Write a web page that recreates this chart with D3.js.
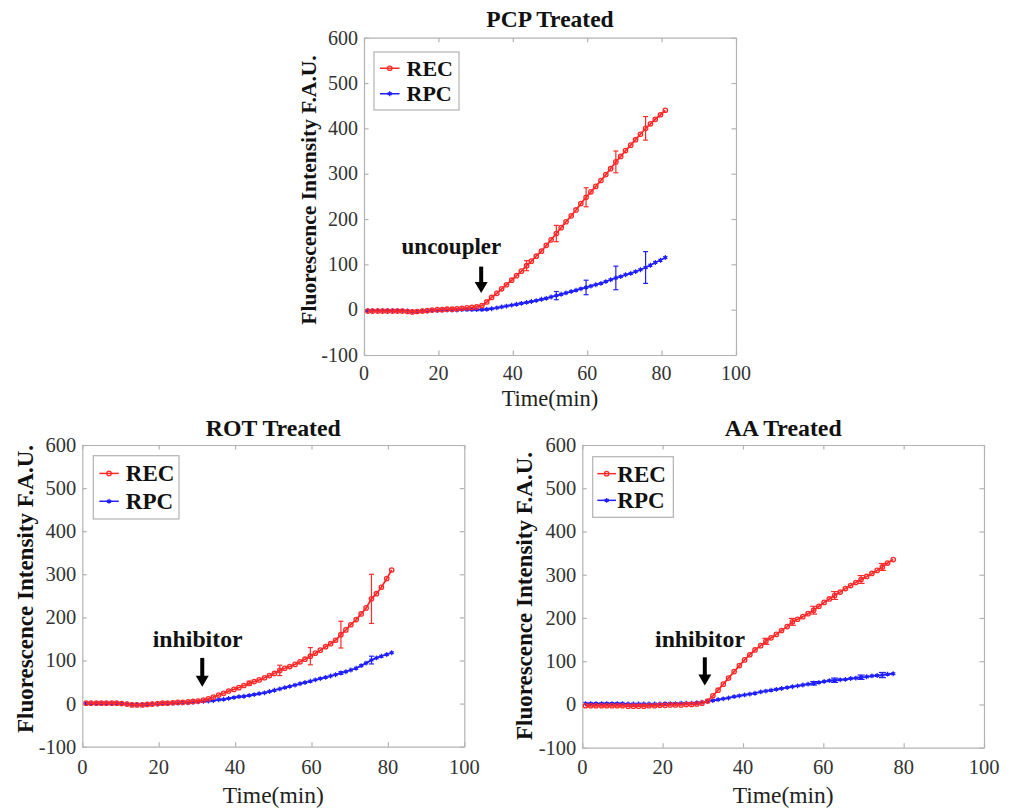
<!DOCTYPE html>
<html><head><meta charset="utf-8">
<script src="https://cdn.jsdelivr.net/npm/d3@7"></script>
<style>html,body{margin:0;padding:0;background:#fff;}svg{display:block;}</style>
</head><body>
<svg id="chart" width="1010" height="812"></svg>
<script>
// ---------------- DATA ----------------
const seriesNames = ["REC", "RPC"];
const panelTitles = ["PCP Treated", "ROT Treated", "AA Treated"];
const annotationTexts = ["uncoupler", "inhibitor", "inhibitor"];
const annotationX = [31.5, 31.4, 30.5];     // time (min) where the arrow points
const yTickValues = [-100, 0, 100, 200, 300, 400, 500, 600];
const xTickValues = [0, 20, 40, 60, 80, 100];

const timeMin = [1.0, 2.3, 3.7, 5.0, 6.3, 7.7, 9.0, 10.3, 11.7, 13.0, 14.3, 15.7, 17.0, 18.3, 19.7,
  21.0, 22.3, 23.7, 25.0, 26.3, 27.7, 29.0, 30.3, 31.7, 33.0, 34.3, 35.7, 37.0, 38.3, 39.7,
  41.0, 42.3, 43.7, 45.0, 46.3, 47.7, 49.0, 50.3, 51.7, 53.0, 54.3, 55.7, 57.0, 58.3, 59.7,
  61.0, 62.3, 63.7, 65.0, 66.3, 67.7, 69.0, 70.3, 71.7, 73.0, 74.3, 75.7, 77.0, 78.3, 79.7, 81.0];

const timeMinAA = [0.8, 2.1, 3.4, 4.8, 6.1, 7.4, 8.7, 10.0, 11.4, 12.7, 14.0, 15.3, 16.6, 18.0, 19.3,
  20.6, 21.9, 23.2, 24.6, 25.9, 27.2, 28.5, 29.8, 31.2, 32.5, 33.8, 35.1, 36.4, 37.8, 39.1,
  40.4, 41.7, 43.0, 44.4, 45.7, 47.0, 48.3, 49.6, 51.0, 52.3, 53.6, 54.9, 56.2, 57.6, 58.9,
  60.2, 61.5, 62.8, 64.2, 65.5, 66.8, 68.1, 69.4, 70.8, 72.1, 73.4, 74.7, 76.0, 77.4];

const pcpREC = [-3, -3, -3, -3, -3, -3, -3, -3, -4, -5, -4, -3, -2, -1, 0,
  0, 1, 1, 2, 3, 4, 5, 6, 9, 17, 27, 36, 46, 55, 65,
  75, 85, 97, 107, 118, 129, 142, 154, 168, 181, 194, 207, 220, 234, 248,
  260, 272, 285, 298, 311, 326, 338, 351, 363, 375, 387, 400, 410, 420, 430, 440];
const pcpRPC = [-2, -2, -2, -2, -2, -2, -2, -2, -3, -4, -4, -3, -3, -2, -2,
  -1, -1, -1, -1, 0, 0, 0, 0, 0, 1, 2, 4, 6, 8, 10,
  12, 14, 16, 18, 20, 23, 25, 28, 31, 34, 37, 40, 43, 46, 49,
  52, 55, 58, 62, 66, 70, 73, 77, 80, 84, 88, 93, 98, 104, 109, 115];

const rotREC = [1, 1, 1, 1, 1, 1, 1, 0, -1, -3, -3, -3, -2, -1, 0,
  1, 1, 2, 3, 3, 4, 5, 6, 8, 11, 15, 20, 24, 29, 33,
  37, 42, 47, 51, 55, 60, 65, 70, 77, 82, 86, 91, 97, 103, 110,
  117, 124, 132, 139, 147, 160, 171, 183, 195, 208, 222, 243, 255, 270, 290, 310];
const rotRPC = [0, 0, 0, 0, 0, 0, 0, 0, -1, -2, -2, -2, -2, -1, -1,
  0, 0, 1, 1, 2, 2, 3, 4, 5, 6, 7, 9, 10, 12, 14,
  16, 17, 19, 21, 23, 25, 28, 31, 34, 37, 40, 43, 46, 49, 52,
  55, 58, 61, 64, 67, 71, 74, 78, 82, 88, 94, 101, 106, 110, 114, 118];

const aaREC = [-3, -3, -3, -3, -3, -3, -3, -3, -4, -4, -4, -4, -3, -3, -2,
  -2, -1, -1, -1, 0, 0, 1, 3, 8, 20, 33, 47, 61, 76, 90,
  103, 115, 126, 136, 146, 154, 162, 171, 180, 191, 197, 203, 210, 218, 227,
  236, 244, 252, 260, 268, 275, 282, 289, 296, 303, 310, 318, 327, 335];
const aaRPC = [2, 2, 2, 2, 2, 2, 2, 2, 1, 1, 1, 1, 1, 1, 1,
  2, 2, 2, 3, 3, 3, 4, 5, 7, 9, 11, 13, 15, 18, 20,
  22, 24, 26, 29, 31, 33, 35, 37, 39, 41, 43, 45, 47, 49, 51,
  53, 55, 56, 57, 58, 60, 61, 63, 64, 66, 67, 68, 70, 71];

// error bars: index into the series, and half-height
const pcpRECErrIdx = [32, 38, 44, 50, 56], pcpRECErr = [11, 18, 21, 24, 26];
const pcpRPCErrIdx = [38, 44, 50, 56],     pcpRPCErr = [9, 16, 26, 35];
const rotRECErrIdx = [32, 38, 44, 50, 56], rotRECErr = [5, 12, 20, 31, 57];
const rotRPCErrIdx = [50, 56],             rotRPCErr = [3, 9];
const aaRECErrIdx = [34, 39, 43, 47, 52, 56], aaRECErr = [7, 8, 9, 9, 9, 8];
const aaRPCErrIdx = [43, 47, 52, 56],         aaRPCErr = [4, 5, 5, 6];

// ---------------- LAYOUT ----------------
const RED = "#ff2a2a", BLUE = "#2020ff", AXIS = "#b3b3b3", TICKTXT = "#333";
const FONT = "'Liberation Serif', 'Times New Roman', serif";

const panels = [
  { title: panelTitles[0], annot: annotationTexts[0], ax: annotationX[0],
    box: {l: 364, r: 736, t: 37.7, b: 355},
    t: timeMin, rec: pcpREC, rpc: pcpRPC,
    recE: [pcpRECErrIdx, pcpRECErr], rpcE: [pcpRPCErrIdx, pcpRPCErr],
    titleY: 27, ylabX: 316, ylabY: 190, xlabY: 406, tickLabY: 380,
    legend: {x: 374, y: 52, w: 85, h: 58},
    annotLab: [23.5, 123], arrowTop: 95, arrowTip: 37,
    fs: {tick: 20, xlab: 22.5, ylab: 21.5, title: 23.5, leg: 22, annot: 23}, cap: 2.5 },
  { title: panelTitles[1], annot: annotationTexts[1], ax: annotationX[1],
    box: {l: 82.3, r: 464.3, t: 445, b: 746.7},
    t: timeMin, rec: rotREC, rpc: rotRPC,
    recE: [rotRECErrIdx, rotRECErr], rpcE: [rotRPCErrIdx, rotRPCErr],
    titleY: 436, ylabX: 33, ylabY: 589, xlabY: 803, tickLabY: 774,
    legend: {x: 93.3, y: 455.7, w: 85.7, h: 63.3},
    annotLab: [30.2, 131], arrowTop: 106, arrowTip: 39,
    fs: {tick: 20.5, xlab: 23.5, ylab: 23, title: 23.8, leg: 23, annot: 23.8}, cap: 2.5 },
  { title: panelTitles[2], annot: annotationTexts[2], ax: annotationX[2],
    box: {l: 582.3, r: 984, t: 445, b: 747.7},
    t: timeMinAA, rec: aaREC, rpc: aaRPC,
    recE: [aaRECErrIdx, aaRECErr], rpcE: [aaRPCErrIdx, aaRPCErr],
    titleY: 436, ylabX: 532, ylabY: 596, xlabY: 803, tickLabY: 774,
    legend: {x: 592.7, y: 456.7, w: 80.6, h: 60.6},
    annotLab: [29.3, 132], arrowTop: 109, arrowTip: 44,
    fs: {tick: 20.5, xlab: 23.5, ylab: 23, title: 23.8, leg: 23, annot: 23.8}, cap: 3.5, legTight: true }
];

const svg = d3.select("#chart");

function marker(g, type, x, y) {
  if (type === "REC") {
    g.append("circle").attr("cx", x).attr("cy", y).attr("r", 2.2)
      .attr("fill", "none").attr("stroke", RED).attr("stroke-width", 1.3);
  } else {
    const sym = d3.symbolAsterisk || d3.symbolCross;
    g.append("path").attr("d", d3.symbol().type(sym).size(16)())
      .attr("transform", `translate(${x},${y})`)
      .attr("fill", d3.symbolAsterisk ? "none" : BLUE)
      .attr("stroke", BLUE).attr("stroke-width", 1.2);
    g.append("circle").attr("cx", x).attr("cy", y).attr("r", 1.4).attr("fill", BLUE);
  }
}

panels.forEach(p => {
  const g = svg.append("g");
  const x = d3.scaleLinear().domain([0, 100]).range([p.box.l, p.box.r]);
  const y = d3.scaleLinear().domain([-100, 600]).range([p.box.b, p.box.t]);
  const tl = 4.5;

  // axes (MATLAB-style box with inward ticks)
  g.append("g").attr("transform", `translate(0,${p.box.b})`).call(d3.axisTop(x).tickValues(xTickValues).tickSize(tl).tickFormat("").tickSizeOuter(0));
  g.append("g").attr("transform", `translate(0,${p.box.t})`).call(d3.axisBottom(x).tickValues(xTickValues).tickSize(tl).tickFormat("").tickSizeOuter(0));
  g.append("g").attr("transform", `translate(${p.box.l},0)`).call(d3.axisRight(y).tickValues(yTickValues).tickSize(tl).tickFormat("").tickSizeOuter(0));
  g.append("g").attr("transform", `translate(${p.box.r},0)`).call(d3.axisLeft(y).tickValues(yTickValues).tickSize(tl).tickFormat("").tickSizeOuter(0));
  g.selectAll(".domain").attr("stroke", AXIS).attr("stroke-width", 1.2);
  g.selectAll(".tick line").attr("stroke", AXIS).attr("stroke-width", 1.2);

  // tick labels
  g.append("g").selectAll("text").data(xTickValues).join("text")
    .attr("x", d => x(d)).attr("y", p.tickLabY).attr("text-anchor", "middle")
    .attr("font-family", FONT).attr("font-size", p.fs.tick).attr("fill", TICKTXT).text(d => d);
  g.append("g").selectAll("text").data(yTickValues).join("text")
    .attr("x", p.box.l - 6).attr("y", d => y(d)).attr("dy", "0.34em").attr("text-anchor", "end")
    .attr("font-family", FONT).attr("font-size", p.fs.tick).attr("fill", TICKTXT).text(d => d);

  // title and axis labels
  g.append("text").attr("x", (p.box.l + p.box.r) / 2).attr("y", p.titleY).attr("text-anchor", "middle")
    .attr("font-family", FONT).attr("font-weight", "bold").attr("font-size", p.fs.title).attr("fill", "#111").text(p.title);
  g.append("text").attr("x", (p.box.l + p.box.r) / 2).attr("y", p.xlabY).attr("text-anchor", "middle")
    .attr("font-family", FONT).attr("font-size", p.fs.xlab).attr("fill", "#222").text("Time(min)");
  g.append("text").attr("transform", `translate(${p.ylabX},${p.ylabY}) rotate(-90)`).attr("text-anchor", "middle")
    .attr("font-family", FONT).attr("font-weight", "bold").attr("font-size", p.fs.ylab).attr("fill", "#111")
    .text("Fluorescence Intensity F.A.U.");

  // series
  const line = d3.line().x(d => x(d[0])).y(d => y(d[1]));
  const draw = (vals, times, col, type, errs) => {
    const pts = vals.map((v, i) => [times[i], v]);
    g.append("path").attr("d", line(pts)).attr("fill", "none").attr("stroke", col).attr("stroke-width", 1.8);
    const mg = g.append("g");
    pts.forEach(d => marker(mg, type, x(d[0]), y(d[1])));
    const [idx, ev] = errs;
    idx.forEach((k, j) => {
      const cx = x(times[k]), v = vals[k], e = ev[j];
      g.append("line").attr("x1", cx).attr("x2", cx).attr("y1", y(v - e)).attr("y2", y(v + e))
        .attr("stroke", col).attr("stroke-width", 1.2);
      [v - e, v + e].forEach(w => g.append("line").attr("x1", cx - p.cap).attr("x2", cx + p.cap)
        .attr("y1", y(w)).attr("y2", y(w)).attr("stroke", col).attr("stroke-width", 1.2));
    });
  };
  draw(p.rpc, p.t, BLUE, "RPC", p.rpcE);
  draw(p.rec, p.t, RED, "REC", p.recE);

  // annotation arrow
  const axp = x(p.ax), yTop = y(p.arrowTop), yTip = y(p.arrowTip);
  const headH = 11, headW = 6.5;
  g.append("line").attr("x1", axp).attr("x2", axp).attr("y1", yTop).attr("y2", yTip - headH + 1)
    .attr("stroke", "#000").attr("stroke-width", 4);
  g.append("path").attr("d", `M${axp - headW},${yTip - headH} L${axp + headW},${yTip - headH} L${axp},${yTip} Z`).attr("fill", "#000");
  g.append("text").attr("x", x(p.annotLab[0])).attr("y", y(p.annotLab[1])).attr("text-anchor", "middle")
    .attr("font-family", FONT).attr("font-weight", "bold").attr("font-size", p.fs.annot).attr("fill", "#111").text(p.annot);

  // legend
  const L = p.legend;
  g.append("rect").attr("x", L.x).attr("y", L.y).attr("width", L.w).attr("height", L.h)
    .attr("fill", "#fff").attr("stroke", AXIS).attr("stroke-width", 1.2);
  const sx0 = L.x + (p.legTight ? 4.6 : 6), sx1 = L.x + (p.legTight ? 23.3 : 25.5);
  const txtX = L.x + (p.legTight ? 24.6 : 32.5);
  seriesNames.forEach((nm, i) => {
    const cy = L.y + L.h * (i === 0 ? 0.28 : 0.72);
    const col = nm === "REC" ? RED : BLUE;
    g.append("line").attr("x1", sx0).attr("x2", sx1).attr("y1", cy).attr("y2", cy).attr("stroke", col).attr("stroke-width", 1.5);
    marker(g, nm, (sx0 + sx1) / 2, cy);
    g.append("text").attr("x", txtX).attr("y", cy).attr("dy", "0.35em")
      .attr("font-family", FONT).attr("font-weight", "bold").attr("font-size", p.fs.leg).attr("fill", "#111").text(nm);
  });
});
</script>
</body></html>
